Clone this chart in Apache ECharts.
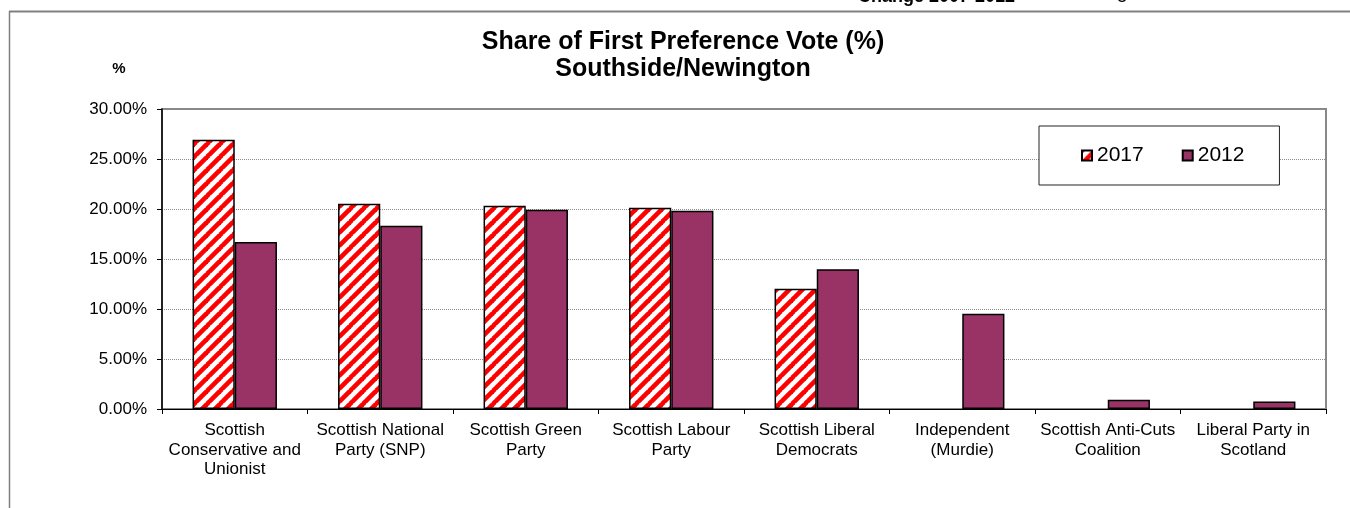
<!DOCTYPE html>
<html>
<head>
<meta charset="utf-8">
<script src="https://cdn.jsdelivr.net/npm/echarts@6/dist/echarts.min.js"></script>
<style>
html,body{margin:0;padding:0;background:#fff;}
#c{width:1350px;height:508px;}
</style>
</head>
<body>
<div id="c"></div>
<script>
const categories = [
  "Scottish\nConservative and\nUnionist",
  "Scottish National\nParty (SNP)",
  "Scottish Green\nParty",
  "Scottish Labour\nParty",
  "Scottish Liberal\nDemocrats",
  "Independent\n(Murdie)",
  "Scottish Anti-Cuts\nCoalition",
  "Liberal Party in\nScotland"
];
const values2017 = [26.93, 20.53, 20.33, 20.13, 12.03, null, null, null];
const values2012 = [16.70, 18.33, 19.93, 19.83, 13.97, 9.53, 0.93, 0.76];
const yTicks = [0, 5, 10, 15, 20, 25, 30];

function makePattern() {
  const s = 13;
  const c = document.createElement('canvas');
  c.width = s; c.height = s;
  const ctx = c.getContext('2d');
  ctx.fillStyle = '#ffffff';
  ctx.fillRect(0, 0, s, s);
  ctx.strokeStyle = '#ff0000';
  ctx.lineWidth = 4.6;
  for (const k of [-s, 0, s]) {
    ctx.beginPath();
    ctx.moveTo(k - 1, s + 1);
    ctx.lineTo(k + s + 1, -1);
    ctx.stroke();
  }
  return c;
}
const hatch = { image: makePattern(), repeat: 'repeat' };

const FONT = '"Liberation Sans", Arial, sans-serif';
const chart = echarts.init(document.getElementById('c'));
chart.setOption({
  animation: false,
  backgroundColor: '#ffffff',
  textStyle: { fontFamily: FONT },
  grid: {
    left: 162, right: 24, top: 109, bottom: 99,
    show: true, borderColor: '#888888', borderWidth: 2, backgroundColor: 'transparent'
  },
  legend: {
    left: 1039, top: 126,
    width: 240,
    padding: [19, 35, 19, 42],
    borderColor: '#222', borderWidth: 1,
    backgroundColor: '#fff',
    itemWidth: 10, itemHeight: 10, itemGap: 38,
    icon: 'rect',
    textStyle: { fontSize: 21, color: '#000', fontFamily: FONT, padding: [0, 0, 0, 0] },
    data: ['2017', '2012']
  },
  xAxis: {
    type: 'category',
    data: categories,
    axisLine: { lineStyle: { color: '#000', width: 1 } },
    axisTick: { show: true, length: 5, lineStyle: { color: '#000' } },
    axisLabel: { color: '#000', fontSize: 17, lineHeight: 19.5, margin: 12, interval: 0, fontFamily: FONT }
  },
  yAxis: {
    type: 'value',
    min: yTicks[0], max: yTicks[yTicks.length - 1], interval: 5,
    axisLine: { show: true, lineStyle: { color: '#000', width: 1.5 } },
    axisTick: { show: true, length: 5, lineStyle: { color: '#000' } },
    axisLabel: { color: '#000', fontSize: 17, margin: 15, fontFamily: FONT,
      formatter: v => v.toFixed(2) + '%' },
    splitLine: { show: true, lineStyle: { color: '#8c8c8c', width: 1, type: [1, 1] } }
  },
  series: [
    {
      name: '2017', type: 'bar', data: values2017,
      barGap: '0%', barCategoryGap: '42%',
      itemStyle: { color: hatch, borderColor: '#000', borderWidth: 1.5 }
    },
    {
      name: '2012', type: 'bar', data: values2012,
      barGap: '0%', barCategoryGap: '42%',
      itemStyle: { color: '#993366', borderColor: '#000', borderWidth: 1.5 }
    }
  ],
  graphic: [
    { type: 'line', shape: { x1: 9, y1: 11.5, x2: 1350, y2: 11.5 }, style: { stroke: '#808080', lineWidth: 2 } },
    { type: 'line', shape: { x1: 9.5, y1: 11, x2: 9.5, y2: 508 }, style: { stroke: '#808080', lineWidth: 1.5 } },
    { type: 'text', left: 858, top: -12, style: { text: 'Change 2007-2012', font: 'bold 18px ' + FONT, fill: '#000' } },
    { type: 'text', left: 1117, top: -12, style: { text: '8', font: '18px ' + FONT, fill: '#000' } },
    { type: 'text', x: 683, y: 42, style: { text: 'Share of First Preference Vote (%)', font: 'bold 25px ' + FONT, fill: '#000', align: 'center', verticalAlign: 'middle' } },
    { type: 'text', x: 683, y: 69, style: { text: 'Southside/Newington', font: 'bold 25px ' + FONT, fill: '#000', align: 'center', verticalAlign: 'middle' } },
    { type: 'text', x: 119, y: 69, style: { text: '%', font: 'bold 15px ' + FONT, fill: '#000', align: 'center', verticalAlign: 'middle' } }
  ]
});
</script>
</body>
</html>
